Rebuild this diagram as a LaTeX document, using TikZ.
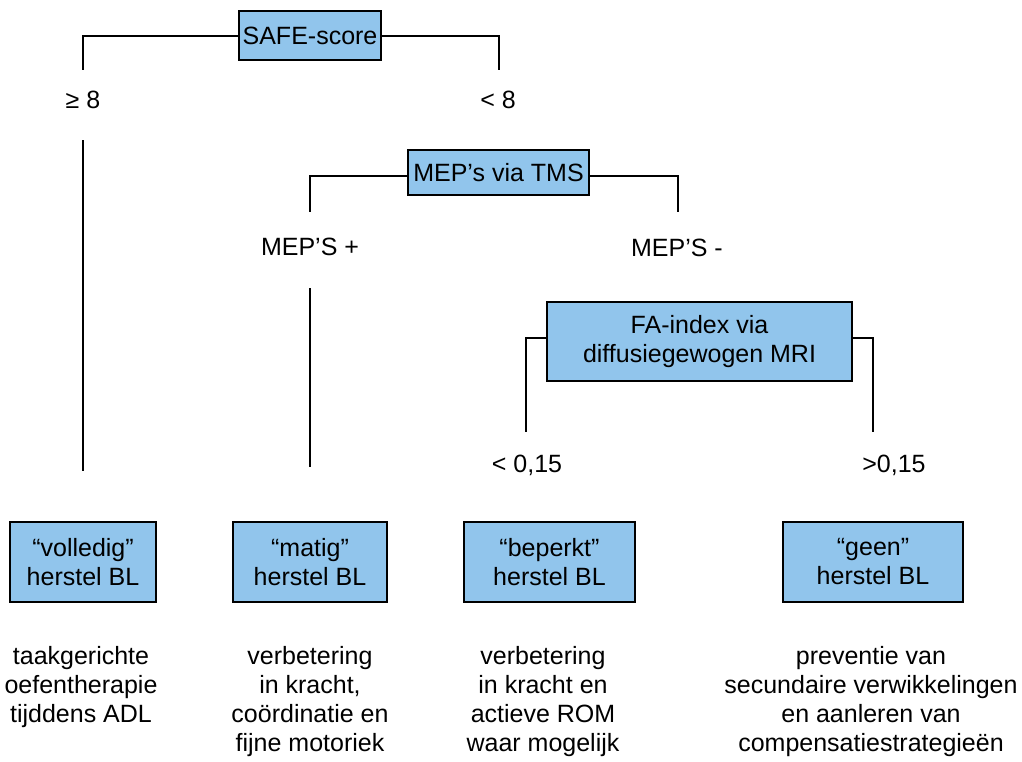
\documentclass[tikz,border=0pt]{standalone}
\usepackage{fontspec}
\setmainfont{Liberation Sans}
\definecolor{boxblue}{RGB}{145,197,236}
\begin{document}
\begin{tikzpicture}[x=1pt,y=-1pt,
  every node/.style={font=\fontsize{25}{29}\selectfont, inner sep=0pt, align=center},
  bluebox/.style={draw=black, line width=2pt, fill=boxblue, minimum height=80pt},
  conn/.style={draw=black, line width=2pt}]
\useasboundingbox (0,0) rectangle (1022,761);
% decision boxes
\node[bluebox, minimum width=142pt, minimum height=49pt] (safe) at (310,35.5) {SAFE-score};
\node[bluebox, minimum width=181pt, minimum height=45pt] (mep) at (498.5,172.5) {MEP’s via TMS};
\node[bluebox, minimum width=305pt, minimum height=79pt] (fa) at (699.5,341.5) {FA-index via\\diffusiegewogen MRI};
% labels
\node (ge8) at (83,100) {≥ 8};
\node (lt8) at (498,100) {< 8};
\node (mepp) at (310,247) {MEP’S +};
\node (mepm) at (677,248) {MEP’S -};
\node (lt015) at (527,465) {< 0,15};
\node (gt015) at (894,465) {>0,15};
% outcome boxes
\node[bluebox, minimum width=146pt] (b1) at (83,562) {“volledig”\\herstel BL};
\node[bluebox, minimum width=154pt] (b2) at (310,562) {“matig”\\herstel BL};
\node[bluebox, minimum width=171pt] (b3) at (549.5,562) {“beperkt”\\herstel BL};
\node[bluebox, minimum width=180pt] (b4) at (873,562) {“geen”\\herstel BL};
% therapy texts
\node (t1) at (81,687) {taakgerichte\\oefentherapie\\tijddens ADL};
\node (t2) at (310,701.5) {verbetering\\in kracht,\\coördinatie en\\fijne motoriek};
\node (t3) at (543,702) {verbetering\\in kracht en\\actieve ROM\\waar mogelijk};
\node (t4) at (871,702) {preventie van\\secundaire verwikkelingen\\en aanleren van\\compensatiestrategieën};
% connectors
\draw[conn] (safe.west) -| ([yshift=30pt]ge8.center);
\draw[conn] (safe.east) -| ([yshift=30pt,xshift=1pt]lt8.center);
\draw[conn] ([yshift=-40pt]ge8.center) -- ([yshift=50pt]b1.north);
\draw[conn] ([yshift=-3.5pt]mep.west) -| ([yshift=35pt]mepp.center);
\draw[conn] ([yshift=-3.5pt]mep.east) -| ([yshift=36pt,xshift=1pt]mepm.center);
\draw[conn] ([yshift=-41pt]mepp.center) -- ([yshift=54pt]b2.north);
\draw[conn] ([yshift=3.5pt]fa.west) -| ([yshift=33pt,xshift=-1pt]lt015.center);
\draw[conn] ([yshift=3.5pt]fa.east) -| ([yshift=33pt,xshift=-21pt]gt015.center);
\end{tikzpicture}
\end{document}
